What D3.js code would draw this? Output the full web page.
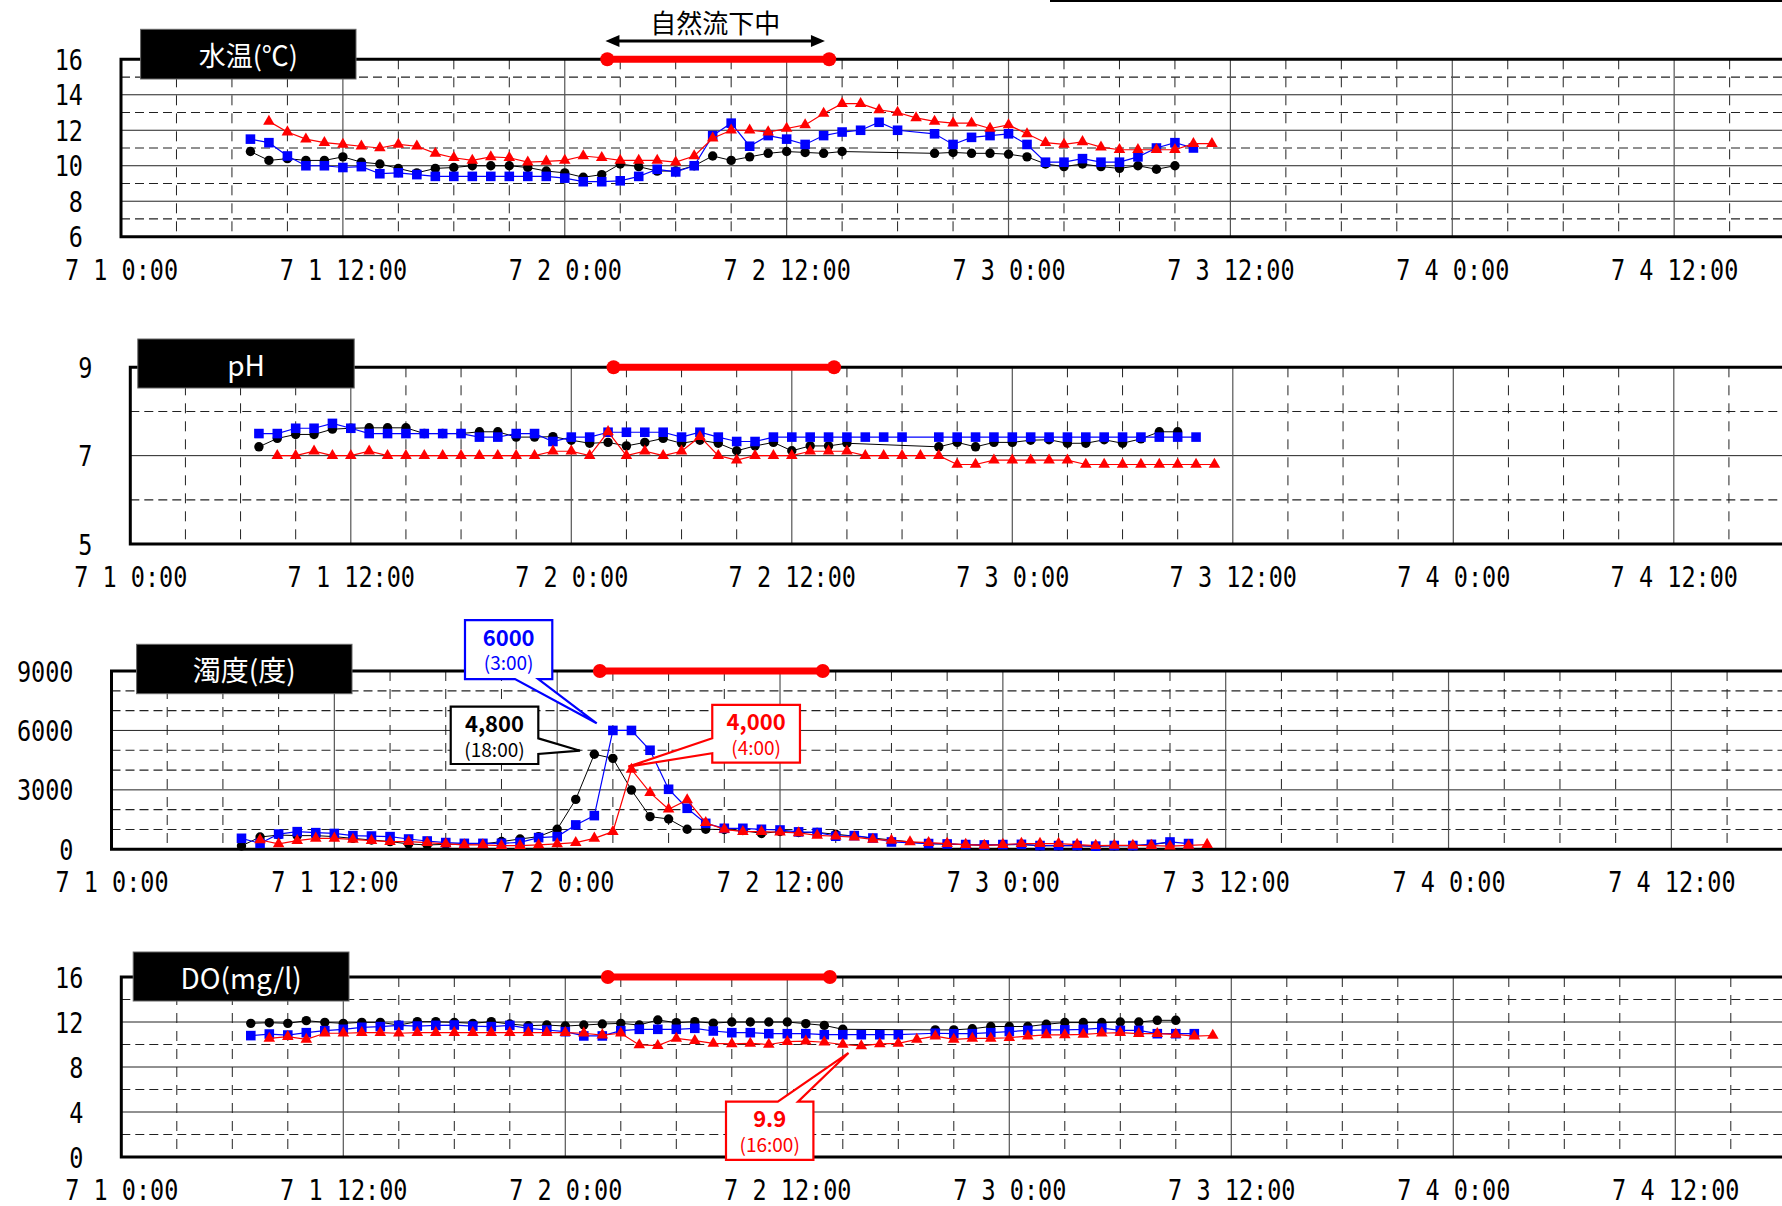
<!DOCTYPE html>
<html>
<head>
<meta charset="utf-8">
<script src="https://cdn.jsdelivr.net/npm/d3@7"></script>
<style>
  body { margin: 0; background: #fff; }
  svg { display: block; }
</style>
</head>
<body>
<div id="chart"></div>
<script>
// hours counted from 7/1 0:00
const hours = [7,8,9,10,11,12,13,14,15,16,17,18,19,20,21,22,23,24,25,26,27,28,29,30,31,32,33,34,35,36,37,38,39,40,41,42,43,44,45,46,47,48,49,50,51,52,53,54,55,56,57,58,59];

// 水温
const tempBlack = [10.8,10.3,10.4,10.3,10.3,10.5,10.2,10.1,9.85,9.6,
  9.85,9.9,10.0,10.0,10.0,9.9,9.7,9.6,9.35,9.5,
  10.1,9.95,9.7,9.7,10.0,10.55,10.3,10.5,10.7,10.8,
  10.75,10.7,10.8,
  null,null,null,null,
  10.7,10.75,10.7,10.7,10.65,10.5,10.1,9.95,10.1,9.95,
  9.85,10.0,9.8,10.0,
  null,null];
const tempBlue = [11.5,11.3,10.55,10.0,10.0,9.9,9.95,9.55,9.6,9.5,
  9.4,9.4,9.4,9.4,9.4,9.4,9.4,9.3,9.1,9.1,
  9.15,9.4,9.8,9.65,10.0,11.7,12.4,11.1,11.7,11.5,
  11.2,11.7,11.9,12.0,12.45,12.0,
  null,
  11.8,11.2,11.6,11.7,11.8,11.2,10.2,10.2,10.4,10.2,
  10.2,10.5,11.0,11.3,11.0,
  null];
const tempRed = [null,
  12.5,11.9,11.5,11.3,11.2,11.1,11.0,11.2,11.1,
  10.7,10.45,10.3,10.5,10.45,10.2,10.25,10.3,10.55,10.45,
  10.3,10.3,10.3,10.2,10.55,11.55,12.0,12.0,11.9,12.1,
  12.3,12.95,13.5,13.5,13.15,13.0,12.7,12.5,12.4,12.4,
  12.1,12.3,11.8,11.3,11.2,11.35,11.05,10.9,10.9,10.9,
  10.9,11.25,11.25];

// pH
const phBlack = [7.2,7.39,7.48,7.48,7.6,7.62,7.63,7.63,7.63,7.5,
  7.5,7.5,7.54,7.54,7.42,7.42,7.43,7.35,7.28,7.3,
  7.22,7.3,7.39,7.28,7.35,7.28,7.11,7.22,7.3,7.11,
  7.22,7.22,7.28,
  null,null,null,null,
  7.2,7.3,7.2,7.3,7.3,7.35,7.36,7.28,7.28,7.36,
  7.28,7.38,7.54,7.54,
  null,null];
const phBlue = [7.5,7.5,7.62,7.62,7.73,7.62,7.5,7.5,7.5,7.5,
  7.5,7.5,7.42,7.42,7.5,7.5,7.32,7.42,7.42,7.53,
  7.53,7.53,7.53,7.42,7.53,7.42,7.32,7.32,7.42,7.42,
  7.42,7.42,7.42,7.42,7.42,7.42,
  null,
  7.42,7.42,7.42,7.42,7.42,7.42,7.42,7.42,7.42,7.42,
  7.42,7.42,7.42,7.42,7.42,
  null];
const phRed = [null,
  7.0,7.0,7.1,7.0,7.0,7.1,7.0,7.0,7.0,
  7.0,7.0,7.0,7.0,7.0,7.0,7.1,7.1,7.0,7.54,
  7.0,7.1,7.0,7.1,7.43,7.0,6.9,7.0,7.0,7.0,
  7.1,7.1,7.1,7.0,7.0,7.0,7.0,7.0,6.8,6.8,
  6.9,6.9,6.9,6.9,6.9,6.8,6.8,6.8,6.8,6.8,
  6.8,6.8,6.8];

// 濁度
const turbBlack = [170,620,720,690,690,640,550,470,390,270,
  220,250,270,270,390,520,640,1010,2520,4800,
  4590,2990,1650,1530,1010,1010,1000,950,800,900,
  850,850,760,
  null,null,null,null,
  280,260,230,210,230,240,180,180,180,150,
  180,180,240,350,
  null,null];
const turbBlue = [555,300,770,890,840,800,690,670,640,520,
  420,340,300,300,300,350,590,640,1230,1700,
  6000,6000,5000,3030,2070,1310,1060,1060,1010,975,
  880,850,660,690,570,370,
  null,
  290,270,240,220,240,250,190,190,190,160,
  190,190,250,370,290,
  null];
const turbRed = [null,
  470,270,440,555,555,500,440,390,390,
  340,270,220,220,185,185,220,270,340,555,
  890,4030,2860,2020,2490,1340,1010,890,890,860,
  830,700,660,610,500,450,370,340,290,240,
  200,240,290,290,290,240,190,200,200,190,
  160,200,240];

// DO
const doBlack = [11.88,11.94,11.88,12.12,11.97,11.88,11.97,11.97,11.73,12.03,
  12.03,11.97,11.88,12.03,11.82,11.67,11.73,11.64,11.73,11.82,
  11.88,11.73,12.18,11.94,12.03,11.9,12.0,12.0,12.0,12.0,
  11.85,11.7,11.35,
  null,null,null,null,
  11.3,11.3,11.4,11.6,11.6,11.6,11.8,11.95,11.95,11.95,
  12.0,12.0,12.15,12.15,
  null,null];
const doBlue = [10.79,10.93,10.84,11.05,11.23,11.35,11.53,11.59,11.7,11.64,
  11.7,11.73,11.64,11.59,11.7,11.44,11.29,11.14,10.76,10.76,
  11.23,11.35,11.35,11.35,11.44,11.2,11.05,11.05,10.96,10.96,
  10.96,10.87,10.87,10.87,10.87,10.87,
  null,
  11.0,10.96,10.96,11.05,11.15,11.25,11.3,11.3,11.35,11.45,
  11.25,11.25,10.96,10.96,10.96,
  null];
const doRed = [null,
  10.55,10.7,10.46,11.0,11.0,11.05,11.05,11.0,11.05,
  11.05,11.05,11.05,11.05,11.05,11.05,11.05,11.05,11.0,10.84,
  11.0,9.96,9.9,10.55,10.34,10.1,10.05,10.1,10.0,10.25,
  10.3,10.2,10.0,9.87,10.05,10.1,10.45,10.75,10.45,10.55,
  10.55,10.6,10.75,10.85,10.85,10.9,11.0,11.05,10.96,10.96,
  10.9,10.75,10.8];

// ticks
const xTickHours = [0,12,24,36,48,60,72,84];
const xTickLabels = ["7 1 0:00","7 1 12:00","7 2 0:00","7 2 12:00","7 3 0:00","7 3 12:00","7 4 0:00","7 4 12:00"];
const tempTicks = [6,8,10,12,14,16],  tempMinor = [7,9,11,13,15];
const phTicks = [5,7,9],              phMinor = [6,8];
const turbTicks = [0,3000,6000,9000], turbMinor = [1000,2000,4000,5000,7000,8000];
const doTicks = [0,4,8,12,16],        doMinor = [2,6,10,14];

// 自然流下中 period (hours)
const flowPeriod = [26.3, 38.3];
const flowLabel = "自然流下中";

const W = 1782, H = 1206;
const svg = d3.select("#chart").append("svg")
    .attr("width", W).attr("height", H);

const colors = ["#000000", "#0000ff", "#ff0000"];
const monoScale = 0.84;

const panels = [
  { title: "水温(℃)", fs: 27, series: [tempBlack, tempBlue, tempRed], domain: [6, 16],
    ticks: tempTicks, minor: tempMinor, left: 121, top: 59.3, bottom: 236.7, hw: 18.49,
    box: [140.6, 29.3, 356, 79] },
  { title: "pH", fs: 28, series: [phBlack, phBlue, phRed], domain: [5, 9],
    ticks: phTicks, minor: phMinor, left: 130.3, top: 367.3, bottom: 544, hw: 18.375,
    box: [137.8, 339, 354.2, 388] },
  { title: "濁度(度)", fs: 28, series: [turbBlack, turbBlue, turbRed], domain: [0, 9000],
    ticks: turbTicks, minor: turbMinor, left: 111.5, top: 671, bottom: 849.3, hw: 18.57,
    box: [136.6, 644.3, 352, 693.7] },
  { title: "DO(mg/l)", fs: 28, series: [doBlack, doBlue, doRed], domain: [0, 16],
    ticks: doTicks, minor: doMinor, left: 121.3, top: 977, bottom: 1157, hw: 18.5,
    box: [133.2, 952, 349, 1001] }
];

// callouts: point = series/hour, box offsets from the point
const callouts = [
  { panel: 2, s: 1, hour: 27, main: "6000", sub: "(3:00)", dx: -147.9, dy: -110.4, w: 87.3, h: 59,
    side: "bottom", t1: 50, t2: 73.3, tdx: -16.2, tdy: -7.1 },
  { panel: 2, s: 0, hour: 26, main: "4,800", sub: "(18:00)", dx: -143.6, dy: -47.5, w: 87.6, h: 57.3,
    side: "right", t1: 31.6, t2: 47.3, tdx: -14.3, tdy: -3.5 },
  { panel: 2, s: 2, hour: 28, main: "4,000", sub: "(4:00)", dx: 80.8, dy: -64.5, w: 87.7, h: 57.7,
    side: "left", t1: 33.3, t2: 48.3, tdx: -3.2, tdy: -2.8 },
  { panel: 3, s: 2, hour: 40, main: "9.9", sub: "(16:00)", dx: -135.3, dy: 55.7, w: 87.4, h: 58.3,
    side: "top", t1: 51.8, t2: 72, tdx: -12.8, tdy: 7 }
];

// thin line at the very top right
svg.append("line")
    .attr("x1", 1050).attr("x2", W).attr("y1", 1).attr("y2", 1)
    .attr("stroke", "#000").attr("stroke-width", 2);

panels.forEach((p, pi) => {
  const x = d3.scaleLinear().domain([0, 96]).range([p.left, p.left + 96 * p.hw]);
  const y = d3.scaleLinear().domain(p.domain).range([p.bottom, p.top]);
  p.x = x; p.y = y;
  const g = svg.append("g");

  // horizontal grid
  g.selectAll(".hmaj").data(p.ticks.slice(1, -1)).enter().append("line")
      .attr("x1", x(0)).attr("x2", x(96))
      .attr("y1", d => y(d)).attr("y2", d => y(d))
      .attr("stroke", "#222").attr("stroke-width", 1);
  g.selectAll(".hmin").data(p.minor).enter().append("line")
      .attr("x1", x(0)).attr("x2", x(96))
      .attr("y1", d => y(d)).attr("y2", d => y(d))
      .attr("stroke", "#222").attr("stroke-width", 1.2)
      .attr("stroke-dasharray", "9,5");

  // vertical grid
  const vMajor = d3.range(12, 97, 12);
  const vMinor = d3.range(3, 96, 3).filter(h => h % 12 !== 0);
  g.selectAll(".vmaj").data(vMajor).enter().append("line")
      .attr("x1", d => x(d)).attr("x2", d => x(d))
      .attr("y1", p.top).attr("y2", p.bottom)
      .attr("stroke", "#555").attr("stroke-width", 1.2);
  g.selectAll(".vmin").data(vMinor).enter().append("line")
      .attr("x1", d => x(d)).attr("x2", d => x(d))
      .attr("y1", p.top).attr("y2", p.bottom)
      .attr("stroke", "#222").attr("stroke-width", 1)
      .attr("stroke-dasharray", "10,8");

  // frame
  g.append("path")
      .attr("d", `M${x(96)},${p.top}H${x(0)}V${p.bottom}H${x(96)}`)
      .attr("fill", "none").attr("stroke", "#000").attr("stroke-width", 3);

  // axes
  const xAxis = g.append("g")
      .attr("transform", `translate(0,${p.bottom})`)
      .call(d3.axisBottom(x).tickValues(xTickHours).tickSize(0)
            .tickFormat((d, i) => xTickLabels[i]));
  xAxis.select(".domain").remove();
  xAxis.selectAll("text")
      .attr("y", 43).attr("dy", null)
      .attr("transform", `scale(${monoScale},1)`)
      .attr("font-family", "DejaVu Sans Mono")
      .attr("font-size", 28).attr("fill", "#000")
      .style("white-space", "pre");

  const yAxis = g.append("g")
      .attr("transform", `translate(${p.left},0)`)
      .call(d3.axisLeft(y).tickValues(p.ticks).tickSize(0).tickFormat(d3.format("d")));
  yAxis.select(".domain").remove();
  yAxis.selectAll("text")
      .attr("x", -38 / monoScale).attr("dy", "0.36em")
      .attr("transform", `scale(${monoScale},1)`)
      .attr("font-family", "DejaVu Sans Mono")
      .attr("font-size", 28).attr("fill", "#000");

  // 自然流下中 bar
  g.append("line")
      .attr("x1", x(flowPeriod[0])).attr("x2", x(flowPeriod[1]))
      .attr("y1", p.top).attr("y2", p.top)
      .attr("stroke", "#ff0000").attr("stroke-width", 7);
  g.selectAll(".flowdot").data(flowPeriod).enter().append("circle")
      .attr("cx", d => x(d)).attr("cy", p.top).attr("r", 7)
      .attr("fill", "#ff0000");

  // series
  const shapes = [null, d3.symbolSquare, d3.symbolTriangle];
  const sizes = [0, 92, 58];
  p.series.forEach((vals, si) => {
    const pts = hours.map((h, i) => ({ h: h, v: vals[i] })).filter(d => d.v != null);
    const line = d3.line().x(d => x(d.h)).y(d => y(d.v));
    g.append("path")
        .datum(pts)
        .attr("fill", "none")
        .attr("stroke", colors[si])
        .attr("stroke-width", si === 0 ? 1 : 1.2)
        .attr("d", line);
    if (si === 0) {
      g.selectAll(".c" + si).data(pts).enter().append("circle")
          .attr("cx", d => x(d.h)).attr("cy", d => y(d.v))
          .attr("r", 4.7).attr("fill", colors[si]);
    } else {
      g.selectAll(".m" + si).data(pts).enter().append("path")
          .attr("transform", d => `translate(${x(d.h)},${y(d.v)})`)
          .attr("d", d3.symbol().type(shapes[si]).size(sizes[si]))
          .attr("fill", colors[si]);
    }
  });

  // title box
  g.append("rect")
      .attr("x", p.box[0]).attr("y", p.box[1])
      .attr("width", p.box[2] - p.box[0]).attr("height", p.box[3] - p.box[1])
      .attr("fill", "#000").attr("stroke", "#666").attr("stroke-width", 1);
  g.append("text")
      .attr("x", (p.box[0] + p.box[2]) / 2).attr("y", (p.box[1] + p.box[3]) / 2)
      .attr("text-anchor", "middle").attr("dominant-baseline", "central")
      .attr("font-family", "Noto Sans CJK JP").attr("font-size", p.fs)
      .attr("fill", "#fff")
      .text(p.title);
});

// 自然流下中 label with double arrow (top panel)
{
  const p = panels[0];
  const ax0 = p.x(26.2), ax1 = p.x(38.07), ay = 41;
  svg.append("line")
      .attr("x1", ax0 + 10).attr("x2", ax1 - 10).attr("y1", ay).attr("y2", ay)
      .attr("stroke", "#000").attr("stroke-width", 3);
  svg.append("path")
      .attr("d", `M${ax0},${ay}L${ax0 + 14},${ay - 6}L${ax0 + 14},${ay + 6}Z`)
      .attr("fill", "#000");
  svg.append("path")
      .attr("d", `M${ax1},${ay}L${ax1 - 14},${ay - 6}L${ax1 - 14},${ay + 6}Z`)
      .attr("fill", "#000");
  svg.append("text")
      .attr("x", (ax0 + ax1) / 2).attr("y", 21)
      .attr("text-anchor", "middle").attr("dominant-baseline", "central")
      .attr("font-family", "Noto Sans CJK JP").attr("font-size", 26)
      .attr("fill", "#000")
      .text(flowLabel);
}

// callouts
function calloutPath(x0, y0, w, h, side, t1, t2, tx, ty) {
  const x1 = x0 + w, y1 = y0 + h;
  if (side === "bottom")
    return `M${x0},${y0}H${x1}V${y1}H${x0 + t2}L${tx},${ty}L${x0 + t1},${y1}H${x0}Z`;
  if (side === "right")
    return `M${x0},${y0}H${x1}V${y0 + t1}L${tx},${ty}L${x1},${y0 + t2}V${y1}H${x0}Z`;
  if (side === "left")
    return `M${x0},${y0}H${x1}V${y1}H${x0}V${y0 + t2}L${tx},${ty}L${x0},${y0 + t1}Z`;
  return `M${x0},${y0}H${x0 + t1}L${tx},${ty}L${x0 + t2},${y0}H${x1}V${y1}H${x0}Z`;
}

callouts.forEach(c => {
  const p = panels[c.panel];
  const v = p.series[c.s][hours.indexOf(c.hour)];
  const px = p.x(c.hour), py = p.y(v);
  const bx = px + c.dx, by = py + c.dy;
  svg.append("path")
      .attr("d", calloutPath(bx, by, c.w, c.h, c.side, c.t1, c.t2, px + c.tdx, py + c.tdy))
      .attr("fill", "#fff")
      .attr("stroke", colors[c.s]).attr("stroke-width", 2.2)
      .attr("stroke-linejoin", "miter");
  svg.append("text")
      .attr("x", bx + c.w / 2).attr("y", by + 25.5)
      .attr("text-anchor", "middle")
      .attr("font-family", "Noto Sans CJK JP").attr("font-weight", "bold")
      .attr("font-size", 22).attr("fill", colors[c.s])
      .text(c.main);
  svg.append("text")
      .attr("x", bx + c.w / 2).attr("y", by + 50)
      .attr("text-anchor", "middle")
      .attr("font-family", "Noto Sans CJK JP")
      .attr("font-size", 19).attr("fill", colors[c.s])
      .text(c.sub);
});
</script>
</body>
</html>
